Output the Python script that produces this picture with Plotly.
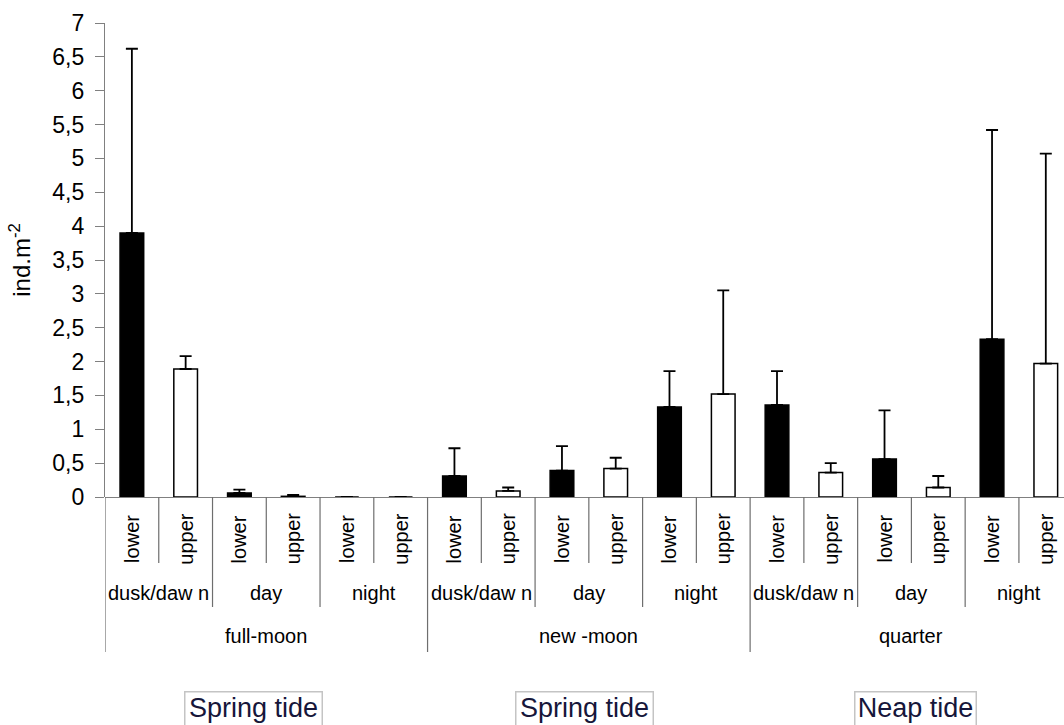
import numpy as np
import plotly.graph_objects as go

# ---------------- data ----------------
level1 = ["lower", "upper"] * 9
level2 = ["dusk/daw n", "day", "night"] * 3
level3 = ["full-moon", "new -moon", "quarter"]
tide_labels = ["Spring tide", "Spring tide", "Neap tide"]

lower_mean = [3.90, 0.06, 0.0, 0.31, 0.39, 1.33, 1.36, 0.56, 2.33]
lower_err = [2.72, 0.05, 0.0, 0.41, 0.36, 0.53, 0.50, 0.72, 3.09]
upper_mean = [1.89, 0.01, 0.0, 0.09, 0.42, 1.52, 0.36, 0.14, 1.97]
upper_err = [0.19, 0.02, 0.0, 0.05, 0.16, 1.53, 0.14, 0.17, 3.10]

y_ticks = [i * 0.5 for i in range(15)]

# ---------------- layout helpers ----------------
W, H = 1064, 725
ML, MR, MT, MB = 105, 0, 23, 228
plot_h = H - MT - MB
cat_px = 53.76
x_end = -0.5 + (W - ML - MR) / cat_px


def py(p):
    """pixel row -> paper y"""
    return (H - MB - p) / plot_h


def px(p):
    return (p - ML) / (W - ML - MR)


FONT = "Liberation Sans, Arial, sans-serif"
GRAY = "#808080"
SEP = "#6e6e6e"

idx = np.arange(len(level1))
x_lower = idx[0::2]
x_upper = idx[1::2]

fig = go.Figure()
fig.add_trace(go.Bar(
    x=x_lower, y=lower_mean, width=0.44,
    marker=dict(color="black", line=dict(color="black", width=1.5)),
    error_y=dict(type="data", symmetric=False, array=lower_err,
                 arrayminus=[0] * len(lower_err), color="black",
                 thickness=1.8, width=6),
    name="lower", showlegend=False))
fig.add_trace(go.Bar(
    x=x_upper, y=upper_mean, width=0.44,
    marker=dict(color="white", line=dict(color="black", width=1.5)),
    error_y=dict(type="data", symmetric=False, array=upper_err,
                 arrayminus=[0] * len(upper_err), color="black",
                 thickness=1.8, width=6),
    name="upper", showlegend=False))

shapes = []
annotations = []

# level 1 labels and separators
for i, lab in enumerate(level1):
    annotations.append(dict(x=i, y=py(539), xref="x", yref="paper",
                            text=lab, textangle=-90, showarrow=False,
                            xanchor="center", yanchor="middle",
                            font=dict(family=FONT, size=20, color="black")))
for i in range(len(level1) + 1):
    b = i - 0.5
    if i % 6 == 0:
        bottom = 652
    elif i % 2 == 0:
        bottom = 607
    else:
        bottom = 563
    shapes.append(dict(type="line", xref="x", yref="paper", x0=b, x1=b,
                       y0=0, y1=py(bottom), line=dict(color=SEP, width=1.2)))

# level 2 labels
for j, lab in enumerate(level2):
    annotations.append(dict(x=2 * j + 0.5, y=py(593), xref="x", yref="paper",
                            text=lab, showarrow=False, xanchor="center",
                            yanchor="middle",
                            font=dict(family=FONT, size=20, color="black")))
# level 3 labels
for k, lab in enumerate(level3):
    annotations.append(dict(x=6 * k + 2.5, y=py(636), xref="x", yref="paper",
                            text=lab, showarrow=False, xanchor="center",
                            yanchor="middle",
                            font=dict(family=FONT, size=20, color="black")))

# tide boxes
tide_centers = [253, 584, 915]
tide_widths = [136, 136, 120]
for lab, c, w in zip(tide_labels, tide_centers, tide_widths):
    annotations.append(dict(x=px(c), y=py(691), xref="paper", yref="paper",
                            text=lab, showarrow=False, xanchor="center",
                            yanchor="top", width=w, height=40, valign="top",
                            bordercolor="#c4c4c4", borderwidth=1.5,
                            borderpad=0, bgcolor="white",
                            font=dict(family=FONT, size=27, color="#16163a")))

fig.update_layout(
    width=W, height=H,
    margin=dict(l=ML, r=MR, t=MT, b=MB, pad=0),
    paper_bgcolor="white", plot_bgcolor="white",
    barmode="overlay",
    separators=", ",
    showlegend=False,
    shapes=shapes,
    annotations=annotations,
    xaxis=dict(range=[-0.5, x_end], showgrid=False, zeroline=False,
               showticklabels=False, ticks="", showline=False,
               fixedrange=True),
    yaxis=dict(range=[0, 7], tickvals=y_ticks, showgrid=False,
               zeroline=True, zerolinecolor=GRAY, zerolinewidth=1.2,
               showline=True, linecolor=GRAY, linewidth=1.2,
               ticks="outside", ticklen=9, tickcolor=GRAY, tickwidth=1.2,
               ticklabelstandoff=6,
               tickfont=dict(family=FONT, size=23, color="black"),
               title=dict(text="ind.m<sup>-2</sup>", standoff=14,
                          font=dict(family=FONT, size=24, color="black")),
               fixedrange=True),
)

fig.write_html(
    "out.html",
    config={"displayModeBar": False},
    post_script="document.body.style.margin='0';document.body.style.padding='0';"
                "document.body.style.overflow='hidden';",
)
